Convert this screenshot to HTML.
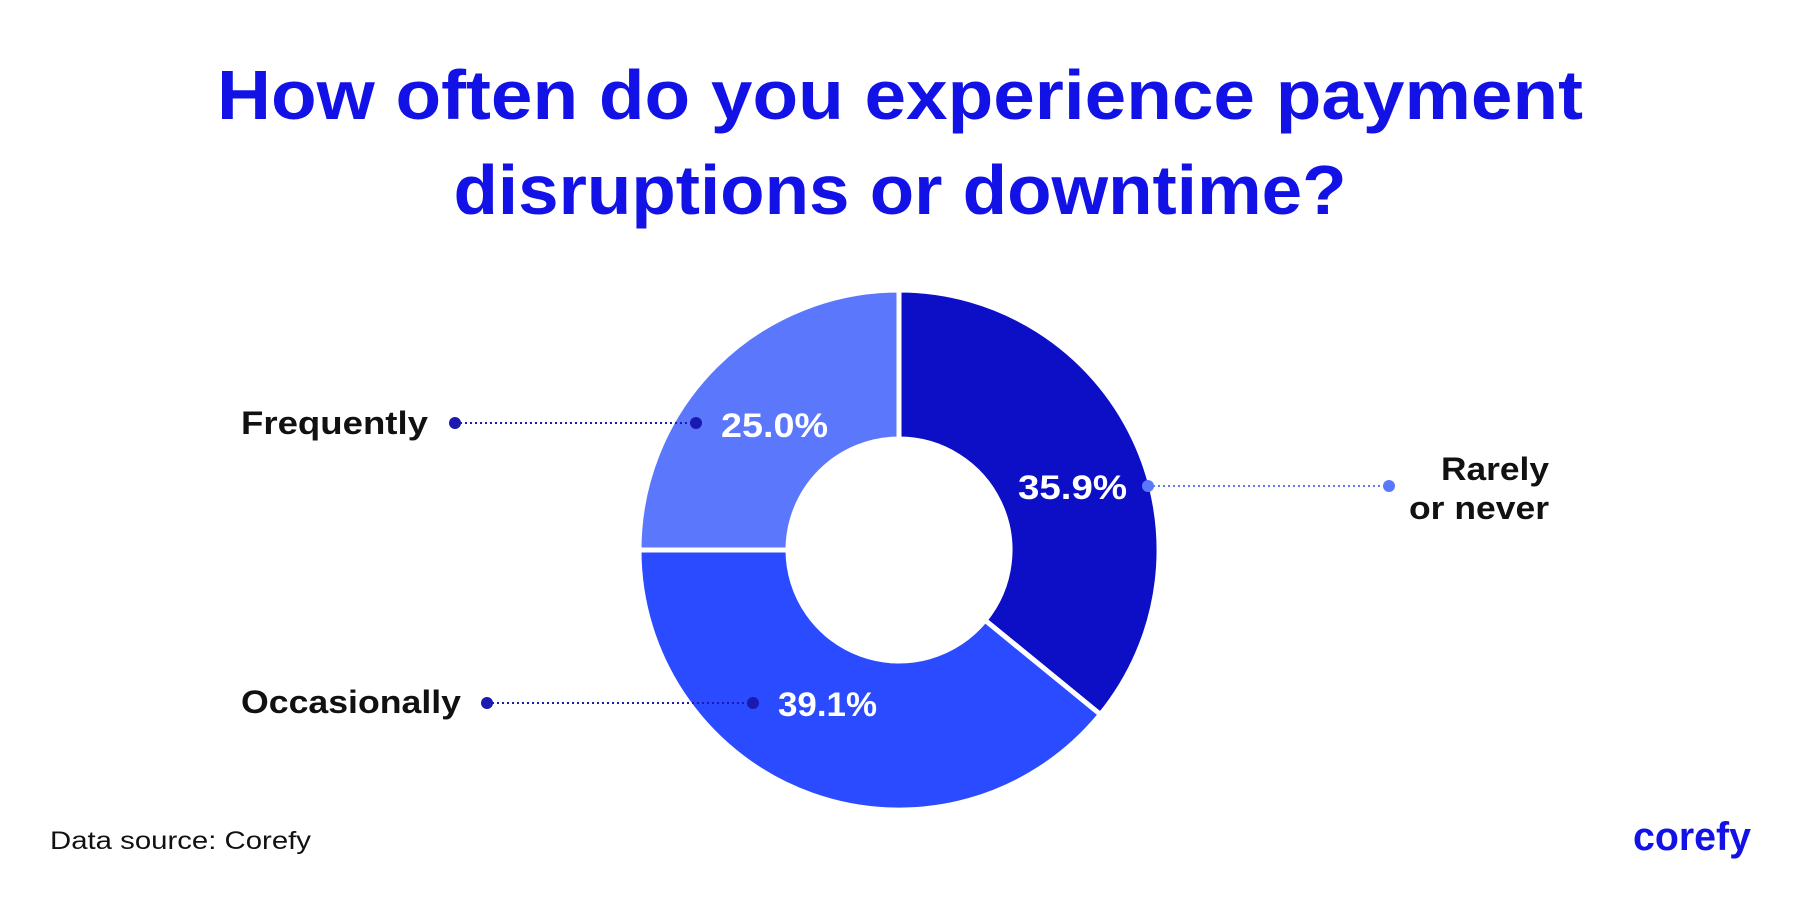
<!DOCTYPE html>
<html><head><meta charset="utf-8"><style>html,body{margin:0;padding:0;background:#fff}svg{display:block}</style></head>
<body>
<svg width="1800" height="900" viewBox="0 0 1800 900" xmlns="http://www.w3.org/2000/svg" font-family="Liberation Sans, sans-serif">
<rect width="1800" height="900" fill="#fff"/>
<text x="900" y="119" text-anchor="middle" font-size="70" font-weight="bold" fill="#1212e6" textLength="1366" lengthAdjust="spacingAndGlyphs">How often do you experience payment</text>
<text x="900" y="214" text-anchor="middle" font-size="70" font-weight="bold" fill="#1212e6" textLength="893" lengthAdjust="spacingAndGlyphs">disruptions or downtime?</text>
<g stroke="#fff" stroke-width="5" stroke-linejoin="round">
<path d="M899,290 A260,260 0 0 1 1100.4,714.5 L985,620.2 A111,111 0 0 0 899,439 Z" fill="#0d0fc7"/>
<path d="M1100.4,714.5 A260,260 0 0 1 639,550 L788,550 A111,111 0 0 0 985,620.2 Z" fill="#2a4bff"/>
<path d="M639,550 A260,260 0 0 1 899,290 L899,439 A111,111 0 0 0 788,550 Z" fill="#5b78fc"/>
</g>
<g stroke-dasharray="2,3" stroke-width="2">
<line x1="455" y1="423" x2="696" y2="423" stroke="#1a1ab0"/>
<line x1="1148" y1="486" x2="1389" y2="486" stroke="#5b78fc"/>
<line x1="487" y1="703" x2="753" y2="703" stroke="#1a1ab0"/>
</g>
<circle cx="455" cy="423" r="6" fill="#1a1ab0"/><circle cx="696" cy="423" r="6" fill="#1a1ab0"/>
<circle cx="1148" cy="486" r="6" fill="#5b78fc"/><circle cx="1389" cy="486" r="6" fill="#5b78fc"/>
<circle cx="487" cy="703" r="6" fill="#1a1ab0"/><circle cx="753" cy="703" r="6" fill="#1a1ab0"/>
<g font-size="32" font-weight="bold" fill="#111" lengthAdjust="spacingAndGlyphs">
<text x="241" y="434" textLength="187" lengthAdjust="spacingAndGlyphs">Frequently</text>
<text x="241" y="713" textLength="220" lengthAdjust="spacingAndGlyphs">Occasionally</text>
<text x="1441" y="480" textLength="108" lengthAdjust="spacingAndGlyphs">Rarely</text>
<text x="1409" y="519" textLength="140" lengthAdjust="spacingAndGlyphs">or never</text>
</g>
<g font-size="34" font-weight="bold" fill="#fff">
<text x="721" y="437" textLength="107" lengthAdjust="spacingAndGlyphs">25.0%</text>
<text x="1018" y="499" textLength="109" lengthAdjust="spacingAndGlyphs">35.9%</text>
<text x="778" y="716" textLength="99" lengthAdjust="spacingAndGlyphs">39.1%</text>
</g>
<text x="50" y="849" font-size="25" fill="#111" textLength="261" lengthAdjust="spacingAndGlyphs">Data source: Corefy</text>
<text x="1633" y="850" font-size="40" font-weight="bold" fill="#1212e6" textLength="118" lengthAdjust="spacingAndGlyphs">corefy</text>
</svg>
</body></html>
